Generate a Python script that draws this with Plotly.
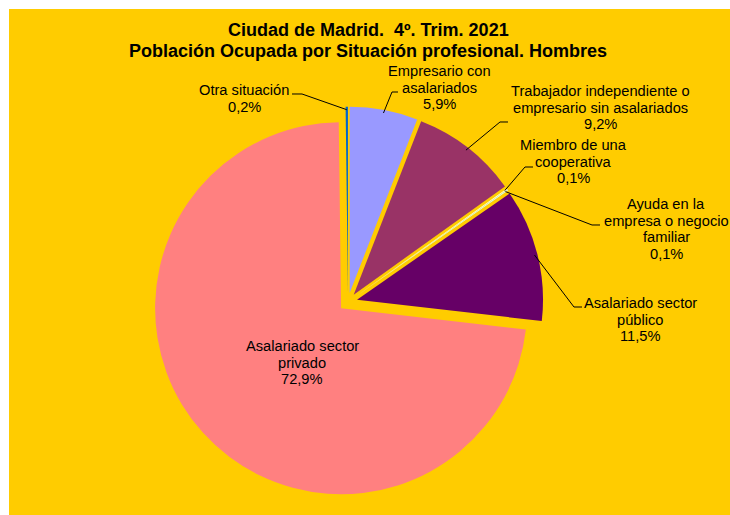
import math
import plotly.graph_objects as go

W, H = 730, 515

# Datos del gráfico (orden de las porciones, en sentido horario desde las 12)
categorias = ["Empresario con asalariados",
              "Trabajador independiente o empresario sin asalariados",
              "Miembro de una cooperativa",
              "Ayuda en la empresa o negocio familiar",
              "Asalariado sector público",
              "Asalariado sector privado",
              "Otra situación"]
porcentajes = [5.9, 9.2, 0.1, 0.1, 11.5, 72.9, 0.2]
colores = ["#9999FF", "#993366", "#FFFFCC", "#CCFFFF", "#660066", "#FF8080", "#0066CC"]

# Texto de las etiquetas partido en líneas
lineas_etiqueta = [["Empresario con", "asalariados"],
                   ["Trabajador independiente o", "empresario sin asalariados"],
                   ["Miembro de una", "cooperativa"],
                   ["Ayuda en la", "empresa o negocio", "familiar"],
                   ["Asalariado sector", "público"],
                   ["Asalariado sector", "privado"],
                   ["Otra situación"]]

# Posición de las etiquetas (centro x, y de la primera línea) en píxeles
pos_etiqueta = [(439, 71), (600, 91), (573, 145), (666, 204), (640, 303), (302, 346), (244, 90)]
# Tramo horizontal de la línea guía junto a la etiqueta
codo = [[(398, 92), (392, 92)],
        [(508, 122), (500, 122)],
        [(533, 167), (525, 167)],
        [(600, 225), (592, 225)],
        [(582, 307), (574, 307)],
        None,
        [(292, 94), (302, 94)]]

# Geometría de la tarta (píxeles)
cx, cy, r, pull = 348, 302, 186, 0.05
half = r * (1 + pull)


def px(x):
    return x / W


def py(y):
    return 1 - y / H


fig = go.Figure(go.Pie(
    labels=categorias, values=porcentajes,
    marker=dict(colors=colores, line=dict(width=0)),
    pull=[pull] * len(porcentajes),
    sort=False, direction="clockwise", rotation=0,
    textinfo="none", hoverinfo="skip", showlegend=False,
    domain=dict(x=[px(cx - half), px(cx + half)], y=[py(cy + half), py(cy - half)]),
))

# fondo naranja con borde blanco arriba y a la izquierda
fig.add_shape(type="rect", xref="paper", yref="paper",
              x0=px(9), x1=1, y0=0, y1=py(9),
              fillcolor="#FFCC00", line=dict(width=0), layer="below")

anots = []
# título
for i, t in enumerate(["Ciudad de Madrid.  4º. Trim. 2021",
                       "Población Ocupada por Situación profesional. Hombres"]):
    anots.append(dict(text="<b>%s</b>" % t, x=px(368), y=py(30 + i * 21),
                      xref="paper", yref="paper", showarrow=False,
                      xanchor="center", yanchor="middle",
                      font=dict(family="Arial, Liberation Sans", size=18, color="black")))

total = sum(porcentajes)
acum = 0
salto = 16.7
for i, v in enumerate(porcentajes):
    medio = (acum + v / 2) / total * 2 * math.pi
    acum += v
    lineas = lineas_etiqueta[i] + [("%.1f" % v).replace(".", ",") + "%"]
    x0, y0 = pos_etiqueta[i]
    for j, t in enumerate(lineas):
        anots.append(dict(text=t, x=px(x0), y=py(y0 + j * salto),
                          xref="paper", yref="paper", showarrow=False,
                          xanchor="center", yanchor="middle",
                          font=dict(family="Arial, Liberation Sans", size=14.67, color="black")))
    if codo[i] is None:
        continue
    rl = r * (1 + pull) - 3
    punta = (cx + rl * math.sin(medio), cy - rl * math.cos(medio))
    pts = codo[i] + [punta]
    path = "M " + " L ".join("%f,%f" % (px(a), py(b)) for a, b in pts)
    fig.add_shape(type="path", xref="paper", yref="paper", path=path,
                  line=dict(color="black", width=1))

fig.update_layout(width=W, height=H, margin=dict(l=0, r=0, t=0, b=0),
                  paper_bgcolor="white", annotations=anots)

# sin margen en la página para que la figura ocupe toda la ventana
fig.write_html("out.html", config={"displayModeBar": False},
               post_script="document.body.style.margin='0';")
